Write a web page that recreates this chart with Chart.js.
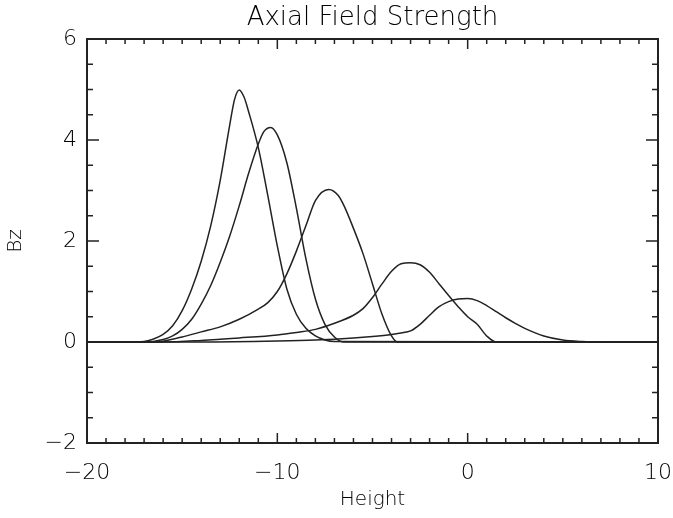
<!DOCTYPE html>
<html>
<head>
<meta charset="utf-8">
<script src="https://cdn.jsdelivr.net/npm/chart.js@4"></script>
<style>
html, body { margin: 0; padding: 0; background: #fff; }
</style>
</head>
<body>
<canvas id="grafica" width="673" height="518"></canvas>
<script>
// curve 1, peak near -12
const altura1 = [-20, -17.5, -17, -16.5, -16, -15.5, -15, -14.5, -14, -13.5, -13, -12.5, -12.25, -12, -11.75, -11.5, -11, -10.5, -10, -9.5, -9, -8.5, -8, -7.5, -7, 10];
const campo1 = [0, 0, 0.01, 0.06, 0.15, 0.32, 0.62, 1.05, 1.6, 2.3, 3.2, 4.3, 4.8, 4.99, 4.85, 4.55, 3.85, 2.9, 1.9, 1.05, 0.55, 0.27, 0.12, 0.04, 0.01, 0];

// curve 2, peak near -10.3
const altura2 = [-20, -17, -16, -15.5, -15, -14.5, -14, -13.5, -13, -12.5, -12, -11.5, -11, -10.7, -10.35, -10, -9.5, -9, -8.5, -8, -7.5, -7, -6.5, 10];
const campo2 = [0, 0, 0.05, 0.12, 0.25, 0.45, 0.75, 1.12, 1.58, 2.1, 2.7, 3.35, 3.92, 4.17, 4.25, 4.1, 3.55, 2.65, 1.65, 0.85, 0.35, 0.1, 0, 0];

// curve 3, peak near -7.3
const altura3 = [-20, -16.5, -15, -14, -13, -12, -11, -10.5, -10, -9.5, -9, -8.5, -8, -7.3, -6.8, -6.5, -6, -5.5, -5, -4.5, -4, -3.7, 10];
const campo3 = [0, 0, 0.1, 0.2, 0.3, 0.45, 0.65, 0.78, 1.0, 1.35, 1.8, 2.3, 2.8, 3.02, 2.9, 2.7, 2.25, 1.75, 1.15, 0.55, 0.12, 0, 0];

// curve 4, peak near -3
const altura4 = [-20, -16, -14, -12, -10, -9, -8, -7, -6, -5.5, -5, -4.5, -4, -3.5, -3, -2.5, -2, -1.5, -1, -0.5, 0, 0.5, 1, 1.5, 10];
const campo4 = [0, 0, 0.03, 0.08, 0.14, 0.19, 0.25, 0.37, 0.53, 0.66, 0.88, 1.15, 1.4, 1.55, 1.57, 1.53, 1.38, 1.15, 0.92, 0.7, 0.5, 0.35, 0.12, 0, 0];

// curve 5, peak near 0
const altura5 = [-20, -14, -10, -8, -6, -5, -4, -3.5, -3, -2.5, -2, -1.5, -1, -0.5, 0, 0.5, 1, 1.5, 2, 2.5, 3, 4, 5, 6, 7, 10];
const campo5 = [0, 0, 0.02, 0.04, 0.08, 0.11, 0.15, 0.18, 0.22, 0.35, 0.53, 0.7, 0.8, 0.85, 0.86, 0.82, 0.72, 0.6, 0.48, 0.37, 0.27, 0.12, 0.04, 0.01, 0, 0];

const ticksX = [-20, -10, 0, 10];
const etiquetasX = ['\u221220', '\u221210', '0', '10'];
const ticksY = [-2, 0, 2, 4, 6];
const etiquetasY = ['\u22122', '0', '2', '4', '6'];
const titulo = 'Axial Field Strength';

const fuente = "'DejaVu Sans', sans-serif";
const tinta = '#222';
const letra = '#000';

function serie(xs, ys) {
	return {
		data: xs.map((v, i) => ({ x: v, y: ys[i] })),
		borderColor: tinta,
		borderWidth: 1.5,
		pointRadius: 0,
		fill: false,
		cubicInterpolationMode: 'monotone'
	};
}

// IDL style box with inward ticks on all four sides, title centred on the plot
const marco = {
	id: 'marco',
	afterDatasetsDraw(chart) {
		const ctx = chart.ctx;
		const a = chart.chartArea;
		const x = chart.scales.x;
		const y = chart.scales.y;
		ctx.save();
		ctx.strokeStyle = tinta;
		ctx.lineWidth = 1.5;
		ctx.beginPath();
		for (let v = x.min; v <= x.max; v += 1) {
			const px = x.getPixelForValue(v);
			const len = v % 10 === 0 ? 10 : 5;
			ctx.moveTo(px, a.bottom); ctx.lineTo(px, a.bottom - len);
			ctx.moveTo(px, a.top); ctx.lineTo(px, a.top + len);
		}
		for (let v = y.min; v <= y.max; v += 0.5) {
			const py = y.getPixelForValue(v);
			const len = v % 2 === 0 ? 12 : 6;
			ctx.moveTo(a.left, py); ctx.lineTo(a.left + len, py);
			ctx.moveTo(a.right, py); ctx.lineTo(a.right - len, py);
		}
		ctx.stroke();
		ctx.lineWidth = 2;
		ctx.strokeRect(a.left, a.top, a.right - a.left, a.bottom - a.top);

		ctx.fillStyle = letra;
		ctx.font = '200 26px ' + fuente;
		ctx.textAlign = 'center';
		ctx.textBaseline = 'alphabetic';
		ctx.fillText(titulo, (a.left + a.right) / 2, 25);
		ctx.restore();
	}
};

const graph = document.querySelector('#grafica');

new Chart(graph, {
	type: 'line',
	data: {
		datasets: [
			serie(altura1, campo1),
			serie(altura2, campo2),
			serie(altura3, campo3),
			serie(altura4, campo4),
			serie(altura5, campo5)
		]
	},
	options: {
		responsive: false,
		animation: false,
		layout: { padding: { left: 0, right: 15, top: 39, bottom: 0 } },
		plugins: {
			legend: { display: false },
			tooltip: { enabled: false }
		},
		scales: {
			x: {
				type: 'linear',
				min: -20,
				max: 10,
				afterFit: s => { s.height = 75; s.paddingLeft = 0; s.paddingRight = 0; },
				afterBuildTicks: s => { s.ticks = ticksX.map(v => ({ value: v })); },
				ticks: {
					color: letra,
					font: { family: fuente, size: 22, weight: 200 },
					padding: 17,
					maxRotation: 0,
					callback: v => etiquetasX[ticksX.indexOf(v)]
				},
				grid: { display: false, drawTicks: false },
				border: { display: false },
				title: {
					display: true,
					text: 'Height',
					color: letra,
					font: { family: fuente, size: 20, weight: 200 },
					padding: { top: 0, bottom: 6 }
				}
			},
			y: {
				type: 'linear',
				min: -2,
				max: 6,
				afterFit: s => { s.width = 87; s.paddingTop = 0; s.paddingBottom = 0; },
				afterBuildTicks: s => { s.ticks = ticksY.map(v => ({ value: v })); },
				ticks: {
					color: letra,
					font: { family: fuente, size: 22, weight: 200 },
					padding: 10,
					callback: v => etiquetasY[ticksY.indexOf(v)]
				},
				grid: { display: false, drawTicks: false },
				border: { display: false },
				title: {
					display: true,
					text: 'Bz',
					color: letra,
					font: { family: fuente, size: 20, weight: 200 },
					padding: { top: 4, bottom: 0 }
				}
			}
		}
	},
	plugins: [marco]
});
</script>
</body>
</html>
